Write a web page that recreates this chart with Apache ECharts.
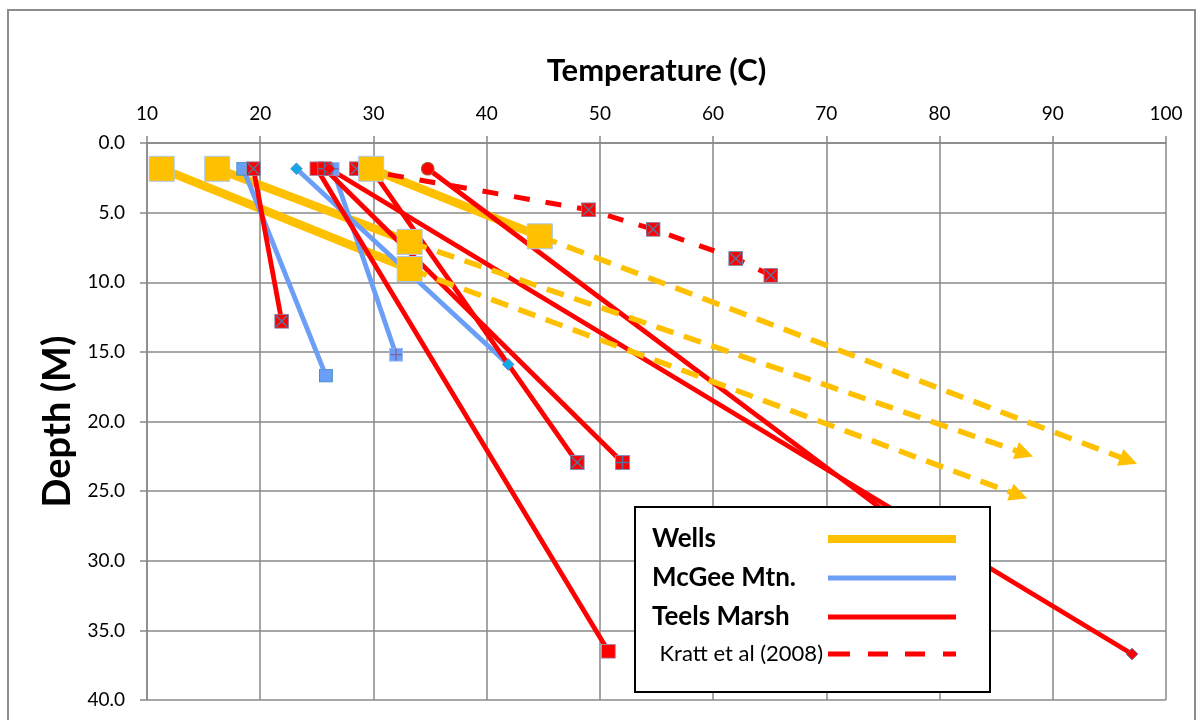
<!DOCTYPE html>
<html>
<head>
<meta charset="utf-8">
<script src="https://cdn.jsdelivr.net/npm/echarts@6/dist/echarts.min.js"></script>
<style>
  html, body { margin: 0; padding: 0; background: #fff; }
  #chart { width: 1203px; height: 720px; }
</style>
</head>
<body>
<div id="chart"></div>
<script>
// Axis ranges: [min, max, step]
const tempAxis = [10, 100, 10];
const depthAxis = [0, 40, 5];

// Wells — measured profiles, [temperature (C), depth (m)]
const wells1 = [[11.3, 1.85], [33.2, 9.05]];
const wells2 = [[16.2, 1.85], [33.2, 7.1]];
const wells3 = [[29.8, 1.85], [44.7, 6.7]];
// Wells — projected gradients from the deepest reading
const wellsTrend1 = [[33.2, 9.05], [87.0, 25.3]];
const wellsTrend2 = [[33.2, 7.1], [87.5, 22.3]];
const wellsTrend3 = [[44.7, 6.7], [96.7, 22.8]];

// McGee Mtn.
const mcgee1 = [[18.5, 1.85], [25.8, 16.7]];
const mcgee2 = [[23.2, 1.85], [41.9, 15.9]];
const mcgee3 = [[26.4, 1.85], [32.0, 15.2]];

// Teels Marsh
const teels1 = [[19.4, 1.85], [21.9, 12.8]];
const teels2 = [[25.0, 1.85], [50.75, 36.5]];
const teels3 = [[25.7, 1.85], [52.0, 22.95]];
const teels4 = [[26.1, 1.85], [97.0, 36.7]];
const teels5 = [[29.8, 1.85], [48.0, 22.95]];
const teels6 = [[34.8, 1.85], [80.0, 29.4]];

// Kratt et al (2008)
const kratt = [[28.5, 1.85], [49.0, 4.8], [54.7, 6.2], [62.0, 8.3], [65.1, 9.5]];

const YELLOW = '#FFC000';
const BLUE = '#6B9EF7';
const RED = '#FF0000';
const FONT = 'Lato, "Open Sans", sans-serif';

// Small SVG marker glyphs (square with cross, square with plus, etc.)
function svgMarker(body, w, h) {
  const svg = '<svg xmlns="http://www.w3.org/2000/svg" width="' + w + '" height="' + h +
    '" viewBox="0 0 ' + w + ' ' + h + '">' + body + '</svg>';
  return 'image://data:image/svg+xml;charset=utf-8,' + encodeURIComponent(svg);
}
const marker = {
  redCross: svgMarker('<rect x="0.5" y="0.5" width="14" height="14" fill="#ff0000" stroke="#8090b8"/>' +
    '<path d="M2 2L13 13M13 2L2 13" stroke="#5f6f99" stroke-width="1.5"/>', 15, 15),
  redPlus: svgMarker('<rect x="0.5" y="0.5" width="14" height="14" fill="#ff0000" stroke="#8090b8"/>' +
    '<path d="M7.5 1V14M1 7.5H14" stroke="#4f6fa8" stroke-width="1.5"/>', 15, 15),
  redSquare: svgMarker('<rect x="0.5" y="0.5" width="14" height="14" fill="#ff0000" stroke="#9aa6c8"/>', 15, 15),
  redCircle: svgMarker('<circle cx="7" cy="7" r="6.3" fill="#ff0000" stroke="#b0553a" stroke-width="1.2"/>', 14, 14),
  redDiamond: svgMarker('<path d="M6.5 0.7L12.3 6.5L6.5 12.3L0.7 6.5Z" fill="#ff0000" stroke="#5f6f99"/>', 13, 13),
  blueSquare: svgMarker('<rect x="0.5" y="0.5" width="13" height="13" fill="#6b9ef7" stroke="#3d8fb8"/>', 14, 14),
  blueDiamond: svgMarker('<path d="M6.5 0.7L12.3 6.5L6.5 12.3L0.7 6.5Z" fill="#12a8e8" stroke="#5a8cc8"/>', 13, 13),
  bluePlus: svgMarker('<rect x="0.5" y="0.5" width="13" height="13" fill="#6b9ef7" stroke="#9bb8f8"/>' +
    '<path d="M7 1V13M1 7H13" stroke="#8064a2" stroke-width="1.4"/>', 14, 14)
};

function profile(name, data, color, symbol, size, extra) {
  return Object.assign({
    type: 'line', name: name, data: data, color: color,
    symbol: symbol, symbolSize: size, showSymbol: true,
    lineStyle: { color: color, width: 4.8 },
    itemStyle: { color: color },
    z: 2, silent: true, animation: false,
    emphasis: { disabled: true }
  }, extra || {});
}

function trendLine(points) {
  return {
    silent: true, animation: false,
    symbol: ['none', 'triangle'], symbolSize: 18,
    label: { show: false },
    emphasis: { disabled: true },
    lineStyle: { color: YELLOW, width: 5.5, type: [18, 11] },
    data: [[{ coord: points[0] }, { coord: points[1] }]]
  };
}

function wellLine(data, trend) {
  return {
    type: 'line', name: 'Wells', data: data, color: YELLOW,
    symbol: 'none', lineStyle: { color: YELLOW, width: 8.5 },
    z: 1, silent: true, animation: false, emphasis: { disabled: true },
    markLine: trendLine(trend)
  };
}

// Legend swatches: 128 x 12 boxes holding a bar or a dashed bar
function barIcon(thick) {
  const y0 = (12 - thick) / 2, y1 = y0 + thick;
  return 'path://M0 0h0.01v0.01h-0.01z M0 ' + y0 + 'H128V' + y1 + 'H0Z M127.99 11.99h0.01v0.01h-0.01z';
}
const dashIcon = 'path://M0 0h0.01v0.01h-0.01z ' +
  'M0 3.5H22V8.5H0Z M40 3.5H60V8.5H40Z M77 3.5H97V8.5H77Z M115 3.5H128V8.5H115Z ' +
  'M127.99 11.99h0.01v0.01h-0.01z';

const series = [
  wellLine(wells1, wellsTrend1),
  wellLine(wells2, wellsTrend2),
  wellLine(wells3, wellsTrend3),

  profile('McGee Mtn.', mcgee1, BLUE, marker.blueSquare, 14),
  profile('McGee Mtn.', mcgee2, BLUE, marker.blueDiamond, 13),
  profile('McGee Mtn.', mcgee3, BLUE, marker.bluePlus, 14),

  profile('Teels Marsh', teels1, RED, marker.redCross, 15),
  profile('Teels Marsh', teels2, RED, marker.redSquare, 15),
  profile('Teels Marsh', teels3, RED, marker.redPlus, 15),
  profile('Teels Marsh', teels4, RED, marker.redDiamond, 13),
  profile('Teels Marsh', teels5, RED, marker.redCross, 15),
  profile('Teels Marsh', teels6, RED, marker.redCircle, 14),

  profile('Kratt et al (2008)', kratt, RED, marker.redCross, 15,
    { lineStyle: { color: RED, width: 5, type: [16, 16] } }),

  // Well readings drawn over everything else
  {
    type: 'scatter', name: 'Wells', color: YELLOW,
    data: wells1.concat(wells2, wells3),
    symbol: 'rect', symbolSize: 25,
    itemStyle: { color: YELLOW, opacity: 1, borderColor: '#a9c8ee', borderWidth: 1 },
    z: 3, silent: true, animation: false, emphasis: { disabled: true }
  }
];

const axisGrey = '#888888';

const option = {
  backgroundColor: '#ffffff',
  animation: false,
  textStyle: { fontFamily: FONT },
  graphic: [{
    type: 'rect', z: -10, silent: true,
    shape: { x: 8, y: 10, width: 1187, height: 760 },
    style: { fill: 'none', stroke: '#8c8c8c', lineWidth: 2 }
  }],
  grid: { left: 147, right: 37, top: 143, bottom: 20, containLabel: false },
  xAxis: {
    type: 'value', position: 'top',
    min: tempAxis[0], max: tempAxis[1], interval: tempAxis[2],
    name: 'Temperature (C)', nameLocation: 'middle', nameGap: 57,
    nameTextStyle: { fontFamily: FONT, fontWeight: 'bold', fontSize: 31, color: '#000' },
    axisLine: { show: true, onZero: false, lineStyle: { color: axisGrey, width: 1.5 } },
    axisTick: { show: true, length: 7, lineStyle: { color: axisGrey, width: 1.5 } },
    axisLabel: { fontFamily: FONT, fontSize: 19, color: '#000', margin: 20 },
    splitLine: { show: true, lineStyle: { color: axisGrey, width: 1.5 } }
  },
  yAxis: {
    type: 'value', inverse: true,
    min: depthAxis[0], max: depthAxis[1], interval: depthAxis[2],
    name: 'Depth (M)', nameLocation: 'middle', nameGap: 65,
    nameTextStyle: { fontFamily: FONT, fontWeight: 'bold', fontSize: 38, color: '#000' },
    axisLine: { show: true, onZero: false, lineStyle: { color: axisGrey, width: 1.5 } },
    axisTick: { show: true, length: 7, lineStyle: { color: axisGrey, width: 1.5 } },
    axisLabel: { fontFamily: FONT, fontSize: 19, color: '#000', margin: 22,
      formatter: function (v) { return v.toFixed(1); } },
    splitLine: { show: true, lineStyle: { color: axisGrey, width: 1.5 } }
  },
  legend: {
    orient: 'vertical', left: 635, top: 507, align: 'right', z: 10,
    backgroundColor: '#ffffff', borderColor: '#000000', borderWidth: 2, borderRadius: 0,
    padding: [19, 34, 27, 17], itemGap: 13, itemWidth: 128, itemHeight: 12,
    selectedMode: false,
    data: [
      { name: 'Wells', icon: barIcon(8), itemStyle: { color: YELLOW, borderWidth: 0 } },
      { name: 'McGee Mtn.', icon: barIcon(5), itemStyle: { color: BLUE, borderWidth: 0 } },
      { name: 'Teels Marsh', icon: barIcon(5), itemStyle: { color: RED, borderWidth: 0 } },
      { name: 'Kratt et al (2008)', icon: dashIcon, itemStyle: { color: RED, borderWidth: 0 } }
    ],
    formatter: function (n) {
      return n === 'Kratt et al (2008)' ? '{k|' + n + '}' : '{b|' + n + '}';
    },
    textStyle: {
      rich: {
        b: { fontFamily: FONT, fontWeight: 'bold', fontSize: 26, color: '#000',
             width: 171, align: 'left', lineHeight: 30 },
        k: { fontFamily: FONT, fontSize: 22, color: '#000', lineHeight: 30 }
      }
    }
  },
  series: series
};

const chart = echarts.init(document.getElementById('chart'), null, { renderer: 'canvas' });
chart.setOption(option);
</script>
</body>
</html>
